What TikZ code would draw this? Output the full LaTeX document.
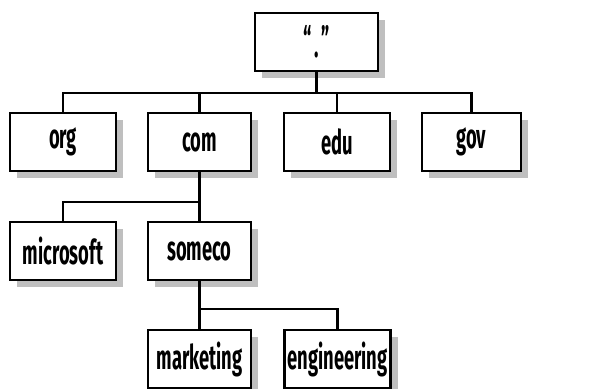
\documentclass[tikz,border=0pt]{standalone}
\usepackage{fontspec}
\setmainfont{Fira Sans}[FakeStretch=0.54]
\usetikzlibrary{shadows}
\begin{document}
\begin{tikzpicture}[x=1pt,y=-1pt,
  box/.style={draw=black,line width=2.8pt,fill=white,minimum height=58pt,inner sep=0pt,
    font=\bfseries\fontsize{34}{34}\selectfont,
    drop shadow={shadow xshift=7pt,shadow yshift=-7pt,fill=black!25,opacity=1}},
  conn/.style={line width=2.8pt}]
\useasboundingbox (0,0) rectangle (615,388);
\node[box,minimum width=123pt] (root) at (316.5,42) {“\hspace{3pt}\raisebox{-0.35ex}{.}\hspace{3pt}”};
\node[box,minimum width=106pt] (org) at (63,142) {org};
\node[box,minimum width=103pt] (com) at (199.5,142) {com};
\node[box,minimum width=106pt] (edu) at (337,142) {edu};
\node[box,minimum width=99pt] (gov) at (471.5,142) {gov};
\node[box,minimum width=106pt] (ms) at (63,251) {microsoft};
\node[box,minimum width=103pt] (someco) at (199.5,251) {someco};
\node[box,minimum width=103pt] (mkt) at (199.5,359) {marketing};
\node[box,minimum width=106pt] (eng) at (337.5,359) {engineering};
\coordinate (b1) at (0,93);
\coordinate (b2) at (0,202);
\coordinate (b3) at (0,309);
\draw[conn] (root.south) -- (root.south |- b1);
\draw[conn] (org.north) -- (org.north |- b1) -- (gov.north |- b1) -- (gov.north);
\draw[conn] (com.north) -- (com.north |- b1);
\draw[conn] (edu.north) -- (edu.north |- b1);
\draw[conn] (com.south) -- (someco.north);
\draw[conn] (ms.north) -- (ms.north |- b2) -- (com.south |- b2);
\draw[conn] (someco.south) -- (mkt.north);
\draw[conn] (mkt.north |- b3) -- (eng.north |- b3) -- (eng.north);
\end{tikzpicture}
\end{document}
